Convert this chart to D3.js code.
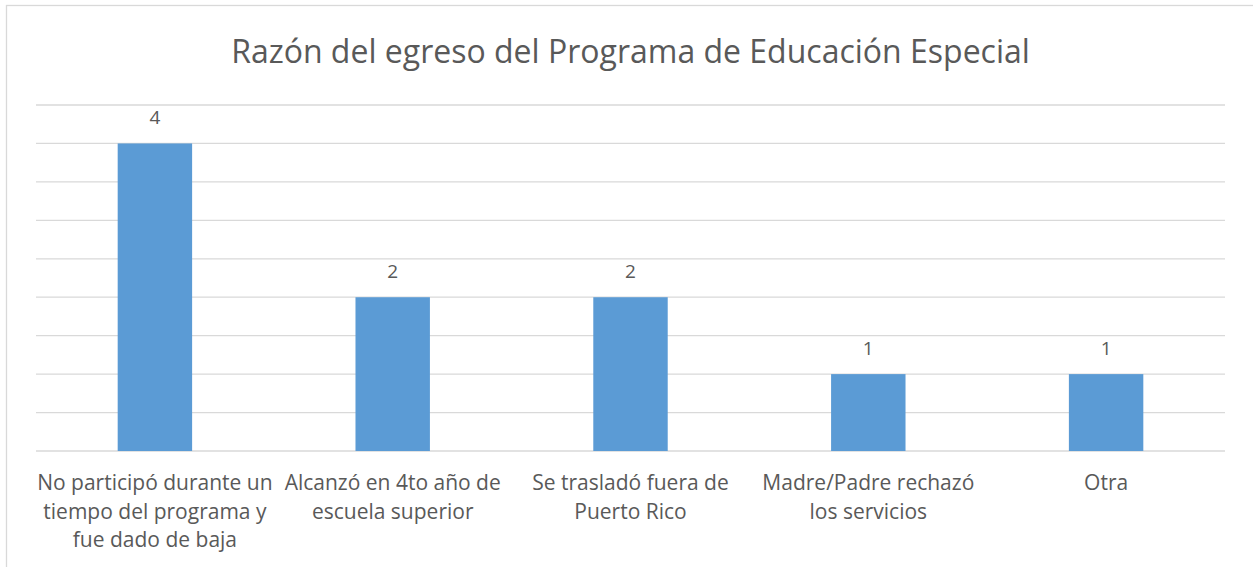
<!DOCTYPE html>
<html>
<head>
<meta charset="utf-8">
<script src="https://d3js.org/d3.v7.min.js"></script>
<style>
  body { margin: 0; background: #fff; }
  svg text { font-family: "Open Sans", "Segoe UI", sans-serif; fill: #595959; }
</style>
</head>
<body>
<div id="chart"></div>
<script>
var title = "Razón del egreso del Programa de Educación Especial";
var categories = [
    "No participó durante un\ntiempo del programa y\nfue dado de baja",
    "Alcanzó en 4to año de\nescuela superior",
    "Se trasladó fuera de\nPuerto Rico",
    "Madre/Padre rechazó\nlos servicios",
    "Otra"
];
var values = [4, 2, 2, 1, 1];
var yTicks = d3.range(0, 4.51, 0.5);

var svgWidth = 1253;
var svgHeight = 567;
var margin = { top: 105, right: 28, bottom: 116, left: 36 };
var width = svgWidth - margin.left - margin.right;
var height = svgHeight - margin.top - margin.bottom;

var svg = d3.select("#chart")
    .append("svg")
    .attr("width", svgWidth)
    .attr("height", svgHeight);

// chart border
svg.append("rect")
    .attr("x", 6.5)
    .attr("y", 5.5)
    .attr("width", 1260)
    .attr("height", 600)
    .attr("fill", "none")
    .attr("stroke", "#d9d9d9")
    .attr("stroke-width", 1.3);

var chart = svg.append("g")
    .attr("transform", "translate(" + margin.left + "," + margin.top + ")");

var xScale = d3.scaleBand()
    .domain(categories)
    .range([0, width])
    .paddingInner(0.687)
    .paddingOuter(0.3435);

var yScale = d3.scaleLinear()
    .domain([0, 4.5])
    .range([height, 0]);

// gridlines
chart.selectAll(".grid")
    .data(yTicks)
    .enter()
    .append("line")
    .attr("class", "grid")
    .attr("x1", 0)
    .attr("x2", width)
    .attr("y1", d => yScale(d))
    .attr("y2", d => yScale(d))
    .attr("stroke", "#d9d9d9")
    .attr("stroke-width", 1.3);

// bars
chart.selectAll(".bar")
    .data(values)
    .enter()
    .append("rect")
    .attr("class", "bar")
    .attr("x", (d, i) => xScale(categories[i]))
    .attr("y", d => yScale(d))
    .attr("width", xScale.bandwidth())
    .attr("height", d => height - yScale(d))
    .attr("fill", "#5b9bd5");

// value labels
chart.selectAll(".valueText")
    .data(values)
    .enter()
    .append("text")
    .attr("class", "valueText")
    .attr("x", (d, i) => xScale(categories[i]) + xScale.bandwidth() / 2)
    .attr("y", d => yScale(d) - 19)
    .attr("text-anchor", "middle")
    .style("font-size", "19px")
    .text(d => d);

// category labels
var labels = chart.selectAll(".catText")
    .data(categories)
    .enter()
    .append("text")
    .attr("class", "catText")
    .attr("text-anchor", "middle")
    .style("font-size", "21px")
    .attr("transform", d => "translate(" + (xScale(d) + xScale.bandwidth() / 2) + "," + (height + 39) + ")");

labels.selectAll("tspan")
    .data(d => d.split("\n"))
    .enter()
    .append("tspan")
    .attr("x", 0)
    .attr("y", (d, i) => i * 28.5)
    .text(d => d);

// title
svg.append("text")
    .attr("x", margin.left + width / 2)
    .attr("y", 63)
    .attr("text-anchor", "middle")
    .style("font-size", "32px")
    .text(title);
</script>
</body>
</html>
